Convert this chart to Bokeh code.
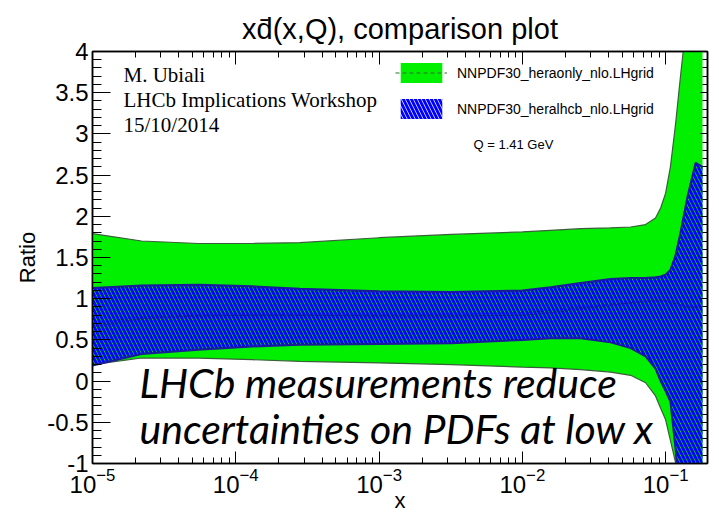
import numpy as np
from bokeh.plotting import figure
from bokeh.models import (LogAxis, LinearAxis, Range1d, Legend, LegendItem, Label,
                          LogTicker, SingleIntervalTicker, ColumnDataSource)
from bokeh.embed import file_html
from bokeh.resources import INLINE

# x grid shared by both PDF sets
x_grid = [1e-5, 2.2e-5, 5.5e-5, 1.3e-4, 2.8e-4, 1e-3, 3.2e-3, 1e-2, 0.0157, 0.0255,
          0.0413, 0.057, 0.0725, 0.085, 0.0923, 0.1, 0.108, 0.117, 0.127, 0.1426,
          0.162, 0.181]

# NNPDF30_heraonly_nlo: 68% band and central ratio
hera_up = [1.79, 1.70, 1.67, 1.67, 1.68, 1.74, 1.78, 1.81, 1.83, 1.85,
           1.86, 1.87, 1.90, 1.98, 2.10, 2.28, 2.60, 3.10, 3.70, 4.50,
           5.00, 5.50]
hera_lo = [0.20, 0.28, 0.28, 0.26, 0.24, 0.22, 0.20, 0.17, 0.16, 0.14,
           0.11, 0.07, -0.02, -0.18, -0.33, -0.47, -0.72, -0.98, -1.40, -2.20,
           -3.00, -3.20]
hera_cv = [0.70, 0.78, 0.80, 0.80, 0.80, 0.80, 0.81, 0.83, 0.86, 0.90,
           0.93, 0.95, 0.96, 0.96, 0.96, 0.96, 0.95, 0.93, 0.92, 0.90,
           0.90, 0.90]

# NNPDF30_heralhcb_nlo: 68% band and central ratio
lhcb_up = [1.13, 1.16, 1.17, 1.15, 1.12, 1.09, 1.08, 1.10, 1.14, 1.19,
           1.24, 1.25, 1.25, 1.26, 1.27, 1.29, 1.35, 1.52, 1.80, 2.25,
           2.65, 2.60]
lhcb_lo = [0.19, 0.33, 0.38, 0.42, 0.44, 0.45, 0.46, 0.50, 0.52, 0.52,
           0.47, 0.40, 0.30, 0.15, 0.00, -0.12, -0.25, -0.80, -1.50, -2.40,
           -3.00, -3.20]
lhcb_cv = [0.66, 0.76, 0.79, 0.80, 0.80, 0.79, 0.79, 0.80, 0.83, 0.88,
           0.92, 0.95, 0.97, 0.98, 0.98, 0.98, 0.97, 0.95, 0.93, 0.90,
           0.90, 0.90]

y_ticks = [-1, -0.5, 0, 0.5, 1, 1.5, 2, 2.5, 3, 3.5, 4]
y_tick_labels = ["-1", "-0.5", "0", "0.5", "1", "1.5", "2", "2.5", "3", "3.5", "4"]

series_names = ["NNPDF30_heraonly_nlo.LHgrid", "NNPDF30_heralhcb_nlo.LHgrid"]
scale_note = "Q = 1.41 GeV"
title_text = "xd\u0304(x,Q), comparison plot"
credit_lines = ["M. Ubiali", "LHCb Implications Workshop", "15/10/2014"]
message_lines = ["LHCb measurements reduce", "uncertainties on PDFs at low x"]

GREEN = "#00f000"
BLUE = "#0000ff"
SANS = "Liberation Sans"

src = ColumnDataSource(dict(x=x_grid, hu=hera_up, hl=hera_lo, hc=hera_cv,
                            lu=lhcb_up, ll=lhcb_lo, lc=lhcb_cv))

p = figure(width=719, height=515, x_axis_type="log",
           x_range=Range1d(1e-5, 0.196), y_range=Range1d(-1, 4),
           output_backend="svg", toolbar_location=None,
           min_border_left=92, min_border_right=12,
           min_border_top=51, min_border_bottom=48)
p.background_fill_color = "white"
p.border_fill_color = "white"
p.outline_line_color = "black"
p.outline_line_width = 1.5
p.xgrid.visible = False
p.ygrid.visible = False

p.title.text = title_text
p.title.align = "center"
p.title.text_font = SANS
p.title.text_font_size = "29px"
p.title.text_font_style = "normal"
p.title.text_color = "black"
p.title.standoff = 14

# green band (HERA only)
g_area = p.varea(x="x", y1="hl", y2="hu", source=src, fill_color=GREEN, fill_alpha=1)
p.line(x="x", y="hu", source=src, line_color="#3b5e3b", line_width=1.2)
p.line(x="x", y="hl", source=src, line_color="#3b5e3b", line_width=1.2)
g_cv = p.line(x="x", y="hc", source=src, line_color="#2f6f2f", line_width=1.2,
              line_dash="4 3")

# hatched blue band (HERA + LHCb)
b_area = p.varea(x="x", y1="ll", y2="lu", source=src, fill_alpha=0,
                 hatch_pattern="left_diagonal_line", hatch_color=BLUE,
                 hatch_weight=2.9, hatch_scale=8)
p.line(x="x", y="lu", source=src, line_color="#1a1a9a", line_width=2)
p.line(x="x", y="ll", source=src, line_color="#1a1a9a", line_width=2)
p.line(x="x", y="lc", source=src, line_color="#1a1a8a", line_width=1, line_alpha=0.6)

# axes: ticks drawn inside the frame
xa = p.xaxis[0]
xa.ticker = LogTicker(num_minor_ticks=10)
xa.major_tick_in = 12
xa.major_tick_out = 0
xa.minor_tick_in = 6
xa.minor_tick_out = 0
xa.major_label_standoff = 4
xa.major_label_text_font = SANS
xa.major_label_text_font_size = "24px"
xa.major_label_text_color = "black"
xa.axis_line_width = 1.5
xa.axis_label = "x"
xa.axis_label_text_font = SANS
xa.axis_label_text_font_size = "22px"
xa.axis_label_text_font_style = "normal"
xa.axis_label_text_color = "black"
xa.axis_label_text_line_height = 0.5
xa.axis_label_standoff = -8

ya = p.yaxis[0]
ya.ticker = SingleIntervalTicker(interval=0.5, num_minor_ticks=5)
ya.major_label_overrides = {float(t): s for t, s in zip(y_ticks, y_tick_labels)}
ya.major_tick_in = 18
ya.major_tick_out = 0
ya.minor_tick_in = 9
ya.minor_tick_out = 0
ya.major_label_standoff = 4
ya.major_label_text_font = SANS
ya.major_label_text_font_size = "24px"
ya.major_label_text_color = "black"
ya.axis_line_width = 1.5
ya.axis_label = "Ratio"
ya.axis_label_text_font = SANS
ya.axis_label_text_font_size = "22px"
ya.axis_label_text_font_style = "normal"
ya.axis_label_text_color = "black"
ya.axis_label_standoff = 4

# mirrored tick marks on the top and right edges (no labels)
top = LogAxis(ticker=LogTicker(num_minor_ticks=10), major_label_text_font_size="1px",
              major_label_text_color=None,
              major_tick_in=13, major_tick_out=0, minor_tick_in=6, minor_tick_out=0,
              major_label_standoff=0, axis_line_width=1.5)
p.add_layout(top, "above")
right = LinearAxis(ticker=SingleIntervalTicker(interval=0.5, num_minor_ticks=5),
                   major_label_text_font_size="1px", major_label_text_color=None,
                   major_tick_in=7, major_tick_out=0, minor_tick_in=5, minor_tick_out=0,
                   major_label_standoff=0, axis_line_width=1.5)
p.add_layout(right, "right")

# legend
legend = Legend(items=[LegendItem(label=series_names[0], renderers=[g_area, g_cv]),
                       LegendItem(label=series_names[1], renderers=[b_area])],
                location=(303, 342), orientation="vertical",
                glyph_width=52, glyph_height=25, label_height=25, spacing=11,
                label_standoff=10, padding=0, margin=0,
                border_line_alpha=0, background_fill_alpha=0,
                label_text_font=SANS, label_text_font_size="14px",
                label_text_color="black")
p.add_layout(legend)

p.add_layout(Label(x=381, y=319, x_units="screen", y_units="screen", text=scale_note,
                   text_font=SANS, text_font_size="13px", text_color="black",
                   text_baseline="middle"))

# author / event note
for i, line in enumerate(credit_lines):
    p.add_layout(Label(x=31, y=389 - 25 * i, x_units="screen", y_units="screen",
                       text=line, text_font="Liberation Serif", text_color="black",
                       text_font_size="21px", text_baseline="alphabetic"))

# take-away message
for i, line in enumerate(message_lines):
    p.add_layout(Label(x=47, y=81 - 46 * i, x_units="screen", y_units="screen",
                       text=line, text_font="Lato", text_font_style="italic",
                       text_color="black", text_font_size="41px",
                       text_baseline="alphabetic"))

open("out.html", "w").write(file_html(p, INLINE))
